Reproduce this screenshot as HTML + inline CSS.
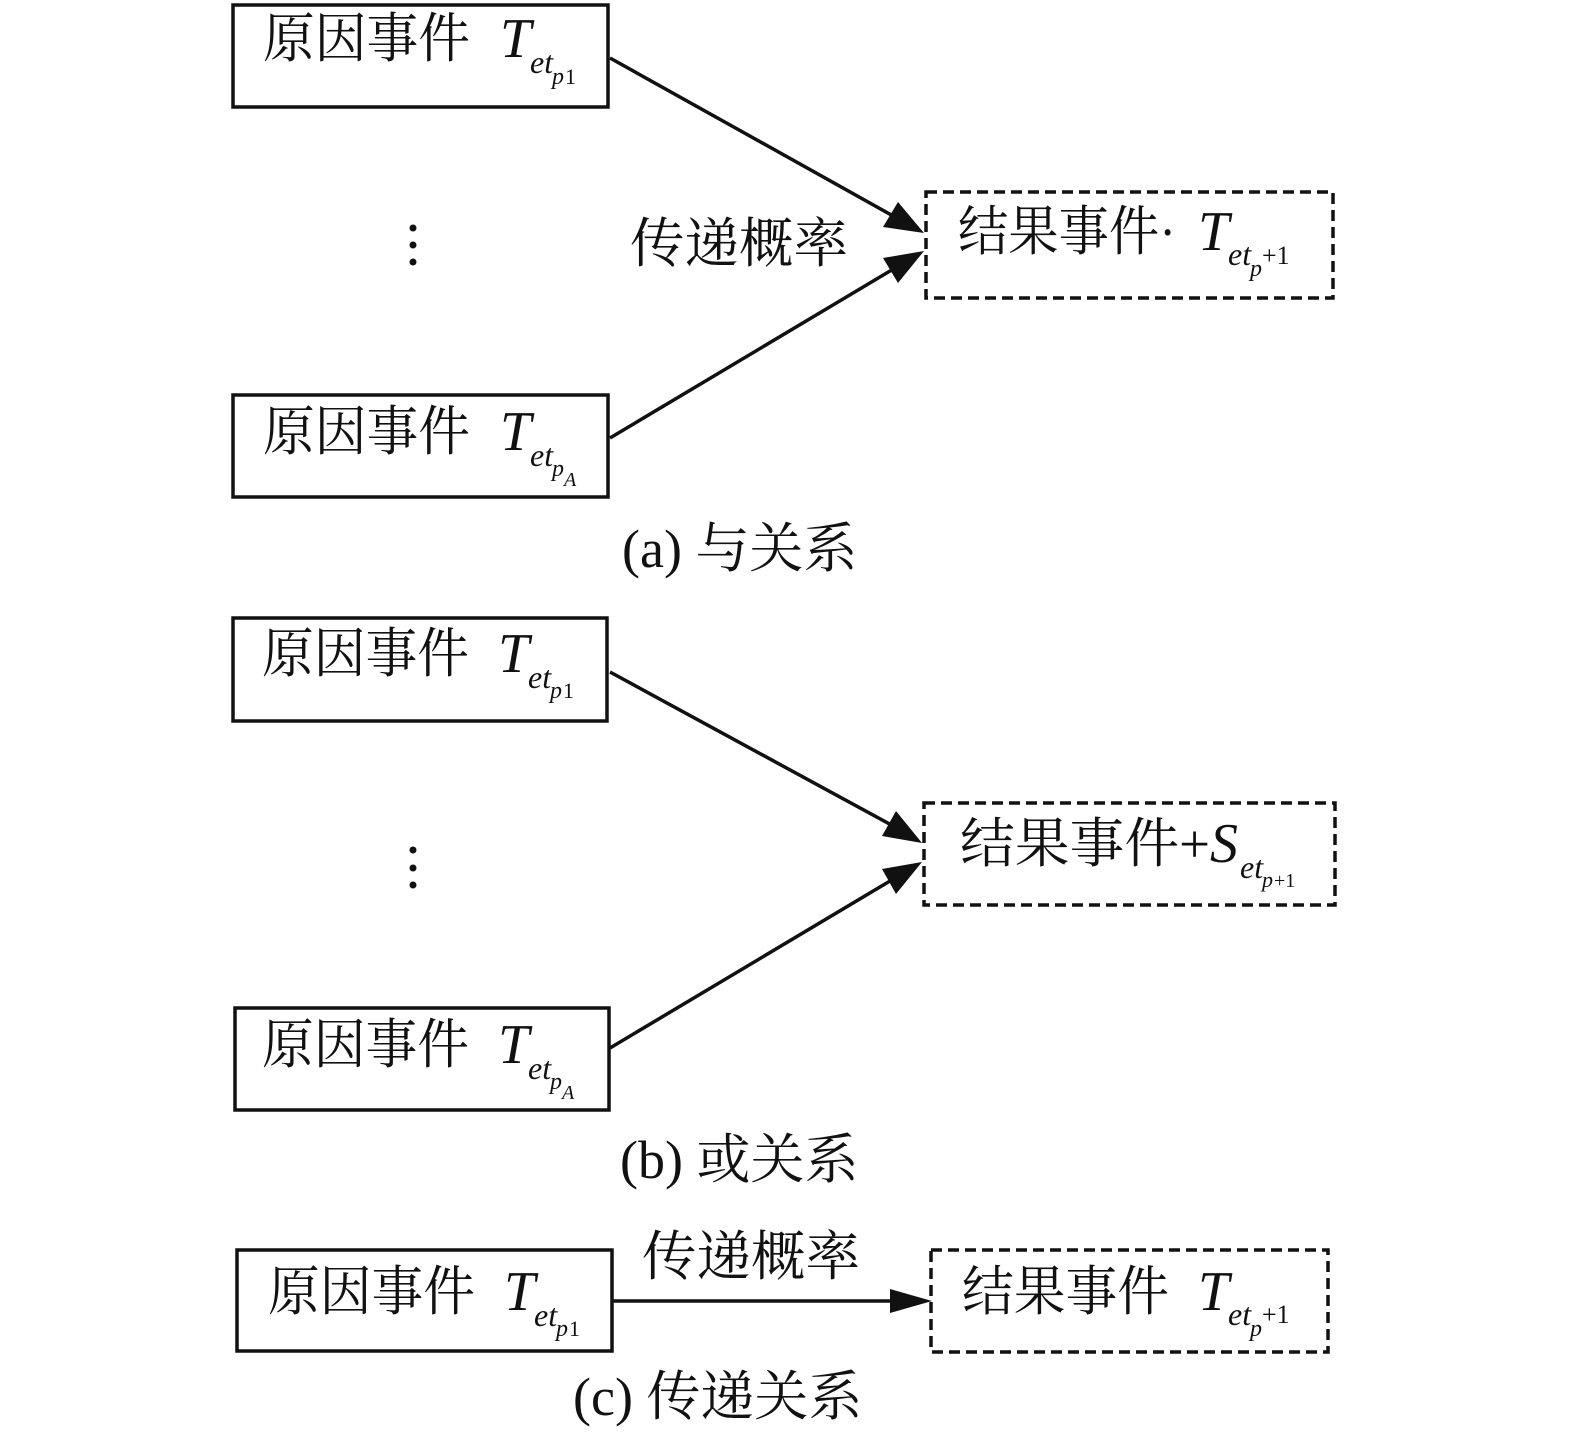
<!DOCTYPE html>
<html><head><meta charset="utf-8"><style>
html,body{margin:0;padding:0;background:#fff;}
svg{display:block;}
.c{font-family:"Liberation Serif","Noto Serif CJK SC",serif;font-size:54px;fill:#111;}
.m{font-family:"Liberation Serif",serif;font-style:italic;fill:#111;}
.r{font-family:"Liberation Serif",serif;fill:#111;}
</style></head><body>
<svg width="1575" height="1444" viewBox="0 0 1575 1444" xmlns="http://www.w3.org/2000/svg">
<defs>
<marker id="ar" markerWidth="10" markerHeight="8" refX="9.5" refY="4" orient="auto" markerUnits="userSpaceOnUse" viewBox="0 0 10 8">
</marker>
</defs>
<g fill="none" stroke="#111" stroke-width="3.5">
<rect x="233" y="5" width="375" height="102"/>
<rect x="233" y="395" width="375" height="102"/>
<rect x="233" y="618" width="374" height="103"/>
<rect x="235" y="1008" width="374" height="102"/>
<rect x="237" y="1250" width="375" height="101"/>
</g>
<g fill="none" stroke="#111" stroke-width="3.5" stroke-dasharray="11 6">
<rect x="926" y="192" width="407" height="106"/>
<rect x="924" y="803" width="411" height="102"/>
<rect x="931" y="1250" width="397" height="102"/>
</g>
<g stroke="#111" stroke-width="3.5">
<line x1="610" y1="58" x2="895" y2="217"/>
<line x1="610" y1="438" x2="895" y2="268"/>
<line x1="610" y1="672" x2="895" y2="827"/>
<line x1="610" y1="1048" x2="895" y2="878"/>
<line x1="612" y1="1301" x2="895" y2="1301"/>
</g>
<g fill="#111">
<polygon points="924,233 883,227 898,202"/>
<polygon points="924,251 898,283 883,258"/>
<polygon points="922,843 882,836 896,811"/>
<polygon points="922,862 896,894 882,869"/>
<polygon points="932,1301 890,1313 890,1289"/>
<circle cx="413" cy="228" r="3.5"/><circle cx="413" cy="245" r="3.5"/><circle cx="413" cy="262" r="3.5"/>
<circle cx="413" cy="850" r="3.5"/><circle cx="413" cy="868" r="3.5"/><circle cx="413" cy="885" r="3.5"/>
</g>
<!-- a box1 -->
<text class="c" x="263" y="57" textLength="207" lengthAdjust="spacingAndGlyphs">原因事件</text>
<text class="m" x="500" y="57" font-size="56">T</text>
<text class="m" x="530" y="73" font-size="32">et</text>
<text class="m" x="552" y="84" font-size="24">p</text><text class="r" x="565" y="84" font-size="22">1</text>
<!-- a box2 -->
<text class="c" x="263" y="450" textLength="207" lengthAdjust="spacingAndGlyphs">原因事件</text>
<text class="m" x="500" y="450" font-size="56">T</text>
<text class="m" x="530" y="466" font-size="32">et</text>
<text class="m" x="552" y="476" font-size="24">p</text><text class="m" x="564" y="486" font-size="20">A</text>
<!-- a result -->
<text class="c" x="958" y="250" textLength="218" lengthAdjust="spacingAndGlyphs">结果事件·</text>
<text class="m" x="1198" y="250" font-size="56">T</text>
<text class="m" x="1228" y="265" font-size="32">et</text>
<text class="m" x="1250" y="276" font-size="24">p</text><text class="r" x="1262" y="264" font-size="26">+1</text>
<text class="c" x="630" y="262" textLength="218" lengthAdjust="spacingAndGlyphs">传递概率</text>
<text class="c" x="622" y="567"><tspan class="r" font-size="54">(a)</tspan> 与关系</text>
<!-- b -->
<text class="c" x="262" y="672" textLength="207" lengthAdjust="spacingAndGlyphs">原因事件</text>
<text class="m" x="498" y="672" font-size="56">T</text>
<text class="m" x="528" y="688" font-size="32">et</text>
<text class="m" x="550" y="698" font-size="24">p</text><text class="r" x="563" y="698" font-size="22">1</text>
<text class="c" x="262" y="1063" textLength="207" lengthAdjust="spacingAndGlyphs">原因事件</text>
<text class="m" x="498" y="1063" font-size="56">T</text>
<text class="m" x="528" y="1079" font-size="32">et</text>
<text class="m" x="550" y="1089" font-size="24">p</text><text class="m" x="562" y="1099" font-size="20">A</text>
<text class="c" x="960" y="862" textLength="250" lengthAdjust="spacingAndGlyphs">结果事件+</text>
<text class="m" x="1210" y="862" font-size="56">S</text>
<text class="m" x="1240" y="878" font-size="32">et</text>
<text class="m" x="1262" y="887" font-size="22">p</text><text class="r" x="1274" y="887" font-size="20">+1</text>
<text class="c" x="620" y="1178"><tspan class="r" font-size="54">(b)</tspan> 或关系</text>
<!-- c -->
<text class="c" x="268" y="1310" textLength="207" lengthAdjust="spacingAndGlyphs">原因事件</text>
<text class="m" x="504" y="1310" font-size="56">T</text>
<text class="m" x="534" y="1326" font-size="32">et</text>
<text class="m" x="556" y="1336" font-size="24">p</text><text class="r" x="569" y="1336" font-size="22">1</text>
<text class="c" x="642" y="1275" textLength="218" lengthAdjust="spacingAndGlyphs">传递概率</text>
<text class="c" x="962" y="1310" textLength="207" lengthAdjust="spacingAndGlyphs">结果事件</text>
<text class="m" x="1198" y="1310" font-size="56">T</text>
<text class="m" x="1228" y="1325" font-size="32">et</text>
<text class="m" x="1250" y="1336" font-size="24">p</text><text class="r" x="1262" y="1323" font-size="26">+1</text>
<text class="c" x="573" y="1415"><tspan class="r" font-size="54">(c)</tspan> 传递关系</text>
</svg>
</body></html>
